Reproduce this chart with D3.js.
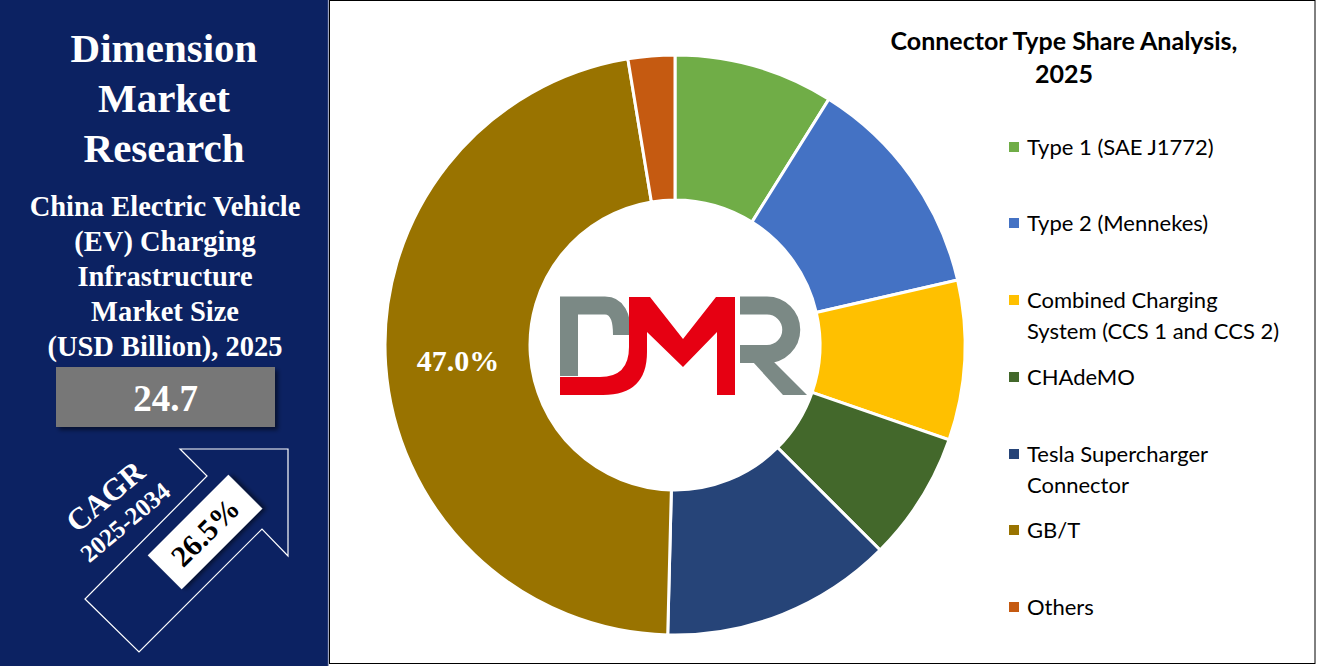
<!DOCTYPE html>
<html><head><meta charset="utf-8">
<script src="https://cdn.jsdelivr.net/npm/d3@7"></script>
<style>html,body{margin:0;padding:0;background:#fff;overflow:hidden}</style>
</head><body>
<svg id="c" width="1317" height="666"></svg>
<script>
const categories = ["Type 1 (SAE J1772)", "Type 2 (Mennekes)", "Combined Charging System (CCS 1 and CCS 2)", "CHAdeMO", "Tesla Supercharger Connector", "GB/T", "Others"];
const legendLines = [["Type 1 (SAE J1772)"], ["Type 2 (Mennekes)"], ["Combined Charging", "System (CCS 1 and CCS 2)"], ["CHAdeMO"], ["Tesla Supercharger", "Connector"], ["GB/T"], ["Others"]];
const shares = [8.9, 12.5, 8.9, 7.2, 12.9, 47.0, 2.6];
const labelled = ["GB/T"];
const colors = ["#70AD47", "#4472C4", "#FFC000", "#43682B", "#264478", "#997300", "#C55A11"];
const titleLines = ["Dimension", "Market", "Research"];
const subtitleLines = ["China Electric Vehicle", "(EV) Charging", "Infrastructure", "Market Size", "(USD Billion), 2025"];
const marketValue = "24.7";
const cagrLabel = "CAGR";
const cagrPeriod = "2025-2034";
const cagrValue = "26.5%";
const chartTitle = ["Connector Type Share Analysis,", "2025"];

const svg = d3.select("#c");
const serif = "'Liberation Serif','Times New Roman',serif";
const sans = "Lato,'Open Sans',sans-serif";

// left panel
svg.append("rect").attr("x",0).attr("y",0).attr("width",328).attr("height",666).attr("fill","#0c2262");
svg.append("line").attr("x1",328).attr("x2",328).attr("y1",0).attr("y2",666).attr("stroke","#3a4a80").attr("stroke-width",1);
// right panel border
svg.append("rect").attr("x",329.5).attr("y",0.5).attr("width",985.5).attr("height",663).attr("fill","#fff").attr("stroke","#000").attr("stroke-width",1);

const L = svg.append("g");
L.selectAll("text.t").data(titleLines).join("text")
  .attr("x",164).attr("y",(d,i)=>48+i*50).attr("dy","0.35em")
  .attr("text-anchor","middle").attr("fill","#fff").attr("font-family",serif)
  .attr("font-weight","bold").attr("font-size",41).text(d=>d);
L.selectAll("text.s").data(subtitleLines).join("text")
  .attr("x",165).attr("y",(d,i)=>206+i*35).attr("dy","0.35em")
  .attr("text-anchor","middle").attr("fill","#fff").attr("font-family",serif)
  .attr("font-weight","bold").attr("font-size",28.5).text(d=>d);

// value box with shadow
const defs = svg.append("defs");
const f = defs.append("filter").attr("id","sh").attr("x","-20%").attr("y","-20%").attr("width","150%").attr("height","160%");
f.append("feDropShadow").attr("dx",3).attr("dy",3).attr("stdDeviation",2).attr("flood-color","#000").attr("flood-opacity",0.5);
L.append("rect").attr("x",56).attr("y",367).attr("width",219).attr("height",60).attr("fill","#777777").attr("filter","url(#sh)");
L.append("text").attr("x",165.5).attr("y",398).attr("dy","0.35em").attr("text-anchor","middle")
  .attr("fill","#fff").attr("font-family",serif).attr("font-weight","bold").attr("font-size",37).text(marketValue);

// arrow outline
const arrowPts = [[85,599],[139,652],[262,529],[288,556],[288,449],[180,449],[207,476]];
L.append("path").attr("d", d3.line()(arrowPts)+"Z").attr("fill","none").attr("stroke","#fff").attr("stroke-width",1.2);
// white box
L.append("g").attr("transform","translate(205,532) rotate(-45)")
  .call(g=>{
    g.append("rect").attr("x",-57).attr("y",-24).attr("width",114).attr("height",48).attr("fill","#fff").attr("filter","url(#sh)");
    g.append("text").attr("x",0).attr("y",0).attr("dy","0.35em").attr("text-anchor","middle")
     .attr("font-family",serif).attr("font-weight","bold").attr("font-size",30).attr("fill","#000").text(cagrValue);
  });
L.append("text").attr("transform","translate(105,496) rotate(-40)").attr("dy","0.35em").attr("text-anchor","middle")
  .attr("font-family",serif).attr("font-weight","bold").attr("font-size",31).attr("fill","#fff").text(cagrLabel);
L.append("text").attr("transform","translate(125,522) rotate(-40)").attr("dy","0.35em").attr("text-anchor","middle")
  .attr("font-family",serif).attr("font-weight","bold").attr("font-size",25).attr("fill","#fff").text(cagrPeriod);

// donut
const cx = 675, cy = 345, R = 290, r0 = 145;
const pie = d3.pie().sort(null).value(d=>d.v);
const data = categories.map((c,i)=>({c, v: shares[i], col: colors[i]}));
const arcs = pie(data);
const arc = d3.arc().innerRadius(r0).outerRadius(R);
const G = svg.append("g").attr("transform",`translate(${cx},${cy})`);
G.selectAll("path").data(arcs).join("path").attr("d",arc).attr("fill",d=>d.data.col)
  .attr("stroke","#fff").attr("stroke-width",3);
G.selectAll("text").data(arcs.filter(d=>labelled.includes(d.data.c))).join("text")
  .attr("transform",d=>`translate(${arc.centroid(d)})`).attr("dy","0.35em").attr("text-anchor","middle")
  .attr("fill","#fff").attr("font-family",serif).attr("font-weight","bold").attr("font-size",30)
  .text(d=>d.data.v.toFixed(1)+"%");

// DMR logo
const logo = svg.append("g");
const gray = "#7b8985", red = "#e60012";
logo.append("path").attr("d","M569,376 V305.5 H605 Q622,305.5 622,335").attr("fill","none").attr("stroke",gray).attr("stroke-width",18);
logo.append("path").attr("d","M560,377 H600 Q629,377 629,347 V297 H650 L683,339 L716,297 H735 V395 H717 V332 L683,367 L647,332 V352 Q647,395 603,395 H560 Z").attr("fill",red);
logo.append("path").attr("d","M740,305.5 H767 A24.25,24.25 0 0 1 767,354 H740").attr("fill","none").attr("stroke",gray).attr("stroke-width",18);
logo.append("path").attr("d","M753,362 H774 L807,395 H783 Z").attr("fill",gray);

// title
svg.selectAll("text.ct").data(chartTitle).join("text").attr("class","ct")
  .attr("x",1064).attr("y",(d,i)=>41+i*33).attr("dy","0.35em").attr("text-anchor","middle")
  .attr("font-family",sans).attr("font-weight","bold").attr("font-size",25).attr("fill","#000").text(d=>d);

// legend
const legY = [147, 223, 300, 377, 454, 530, 607];
const lg = svg.append("g");
legendLines.forEach((lines,i)=>{
  lg.append("rect").attr("x",1009).attr("y",legY[i]-5).attr("width",10).attr("height",10).attr("fill",colors[i]);
  lines.forEach((t,j)=>{
    lg.append("text").attr("x",1027).attr("y",legY[i]+j*31).attr("dy","0.35em")
      .attr("font-family",sans).attr("font-size",22).attr("fill","#000").text(t);
  });
});
</script>
</body></html>
